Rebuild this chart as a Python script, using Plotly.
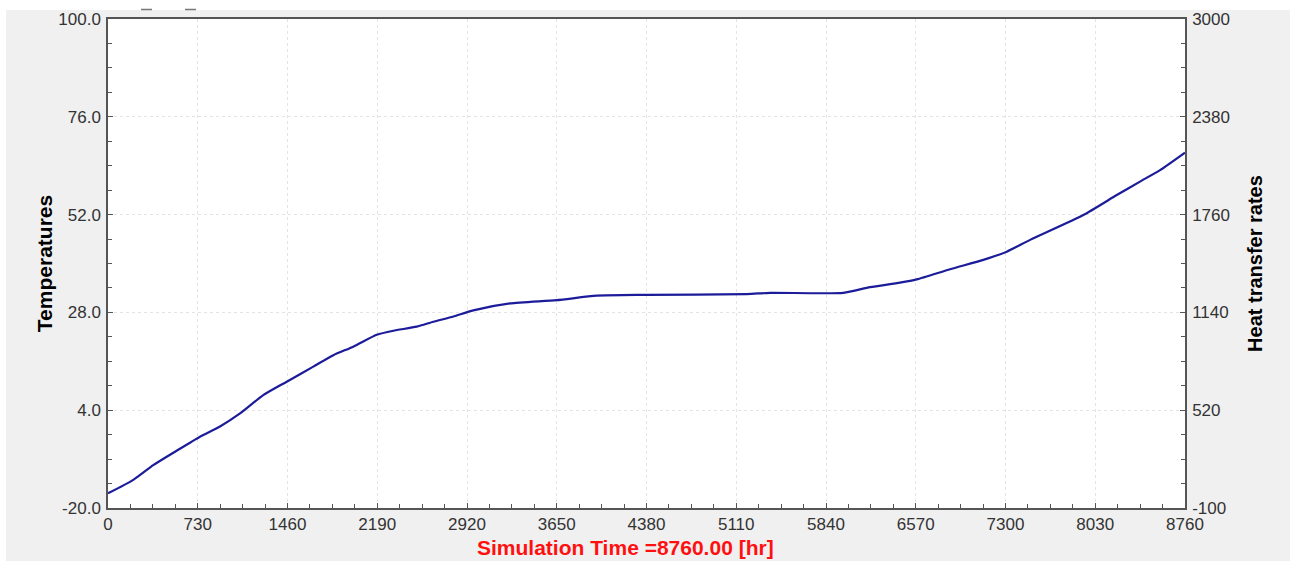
import plotly.graph_objects as go

# ---- data ----
time_hr = [0, 206, 368, 545, 748, 911, 1074, 1263, 1454, 1670, 1833, 1995, 2186, 2321,
           2511, 2646, 2809, 2971, 3270, 3650, 3975, 4382, 5195, 5385, 5981, 6198, 6442,
           6578, 6849, 7120, 7310, 7500, 7933, 8205, 8394, 8557, 8760]
temperature = [-16.4, -13.1, -9.5, -6.2, -2.5, 0.0, 3.2, 7.7, 11.0, 14.7, 17.5, 19.6, 22.5, 23.5,
               24.5, 25.7, 27.0, 28.5, 30.2, 31.0, 32.1, 32.3, 32.5, 32.8, 32.8, 34.2, 35.3,
               36.1, 38.6, 40.9, 42.9, 45.8, 51.9, 56.8, 60.1, 62.9, 67.2]

x_ticks = [0, 730, 1460, 2190, 2920, 3650, 4380, 5110, 5840, 6570, 7300, 8030, 8760]
y_left_ticks = [-20.0, 4.0, 28.0, 52.0, 76.0, 100.0]
y_left_text = ["-20.0", "4.0", "28.0", "52.0", "76.0", "100.0"]
y_right_ticks = [-100, 520, 1140, 1760, 2380, 3000]
y_right_text = ["-100", "520", "1140", "1760", "2380", "3000"]

x_title = "Simulation Time =8760.00 [hr]"
y_left_title = "Temperatures"
y_right_title = "Heat transfer rates"

# ---- figure: body margin removed, so figure sits at page 0,0 ----
W, H = 1290, 561
ML, MT = 108, 19
MR = W - 1185
MB = H - 508
PW, PH = W - ML - MR, H - MT - MB

def px_x(px):  # page px -> paper x
    return (px - ML) / PW

def px_y(py):  # page px -> paper y
    return (H - MB - py) / PH

FONT = "Liberation Sans, Arial, sans-serif"
AXIS_COL = "#555555"
GRID_COL = "#e4e4e4"

fig = go.Figure()
fig.add_trace(go.Scatter(x=time_hr, y=temperature, mode="lines",
                         line=dict(color="#1c1c9a", width=2.2, shape="spline", smoothing=0.6),
                         showlegend=False, hoverinfo="skip"))
# invisible trace to attach right axis
fig.add_trace(go.Scatter(x=[time_hr[0]], y=[y_right_ticks[0]], yaxis="y2", mode="markers",
                         marker=dict(opacity=0), showlegend=False, hoverinfo="skip"))

common_minor = dict(ticks="inside", ticklen=4, tickcolor=AXIS_COL, showgrid=False)

fig.update_layout(
    width=W, height=H,
    margin=dict(l=ML, r=MR, t=MT, b=MB, autoexpand=False),
    paper_bgcolor="#f0f0f0",
    plot_bgcolor="white",
    font=dict(family=FONT, color="#333333", size=17),
    xaxis=dict(
        range=[0, 8760], tickvals=x_ticks, ticktext=[str(v) for v in x_ticks],
        showline=True, linecolor=AXIS_COL, linewidth=1.5, mirror=True,
        ticks="inside", ticklen=5, tickcolor=AXIS_COL,
        showgrid=True, gridcolor=GRID_COL, griddash="3px,3px", gridwidth=1,
        zeroline=False, tickfont=dict(size=17, color="#333333"),
        minor=dict(dtick=182.5, tick0=0, **common_minor),
        ticklabelstandoff=0,
    ),
    yaxis=dict(
        range=[-20, 100], tickvals=y_left_ticks, ticktext=y_left_text,
        showline=True, linecolor=AXIS_COL, linewidth=1.5,
        ticks="inside", ticklen=5, tickcolor=AXIS_COL,
        showgrid=True, gridcolor=GRID_COL, griddash="3px,3px", gridwidth=1,
        zeroline=False, tickfont=dict(size=17, color="#333333"),
        minor=dict(dtick=6, tick0=-20, **common_minor),
        title=dict(text=y_left_title, font=dict(size=21, color="black", family=FONT, weight="bold"),
                   standoff=0),
        ticklabelstandoff=2,
    ),
    yaxis2=dict(
        range=[-100, 3000], tickvals=y_right_ticks, ticktext=y_right_text,
        overlaying="y", side="right",
        showline=True, linecolor=AXIS_COL, linewidth=1.5,
        ticks="inside", ticklen=5, tickcolor=AXIS_COL,
        showgrid=False, zeroline=False, tickfont=dict(size=17, color="#333333"),
        minor=dict(dtick=155, tick0=-100, **common_minor),
        title=dict(text=y_right_title, font=dict(size=20, color="black", family=FONT, weight="bold"),
                   standoff=19),
        ticklabelstandoff=2,
    ),
    shapes=[
        # white strips above and left of the gray window
        dict(type="rect", xref="paper", yref="paper", x0=px_x(0), x1=px_x(W), y0=px_y(10), y1=px_y(0),
             fillcolor="white", line=dict(width=0), layer="below"),
        dict(type="rect", xref="paper", yref="paper", x0=px_x(0), x1=px_x(6), y0=px_y(H), y1=px_y(0),
             fillcolor="white", line=dict(width=0), layer="below"),
        # remnants of a legend at the top
        dict(type="line", xref="paper", yref="paper", x0=px_x(141), x1=px_x(152), y0=px_y(9.5), y1=px_y(9.5),
             line=dict(color="#777777", width=1.5)),
        dict(type="line", xref="paper", yref="paper", x0=px_x(185), x1=px_x(196), y0=px_y(9.5), y1=px_y(9.5),
             line=dict(color="#777777", width=1.5)),
    ],
    annotations=[
        dict(text=x_title, xref="paper", yref="paper", x=px_x(625), y=px_y(547),
             showarrow=False, xanchor="center", yanchor="middle",
             font=dict(size=21, color="#ff1010", family=FONT, weight="bold")),
    ],
)

fig.write_html("out.html",
               config={"displayModeBar": False},
               post_script="document.body.style.margin='0';document.body.style.overflow='hidden';")
